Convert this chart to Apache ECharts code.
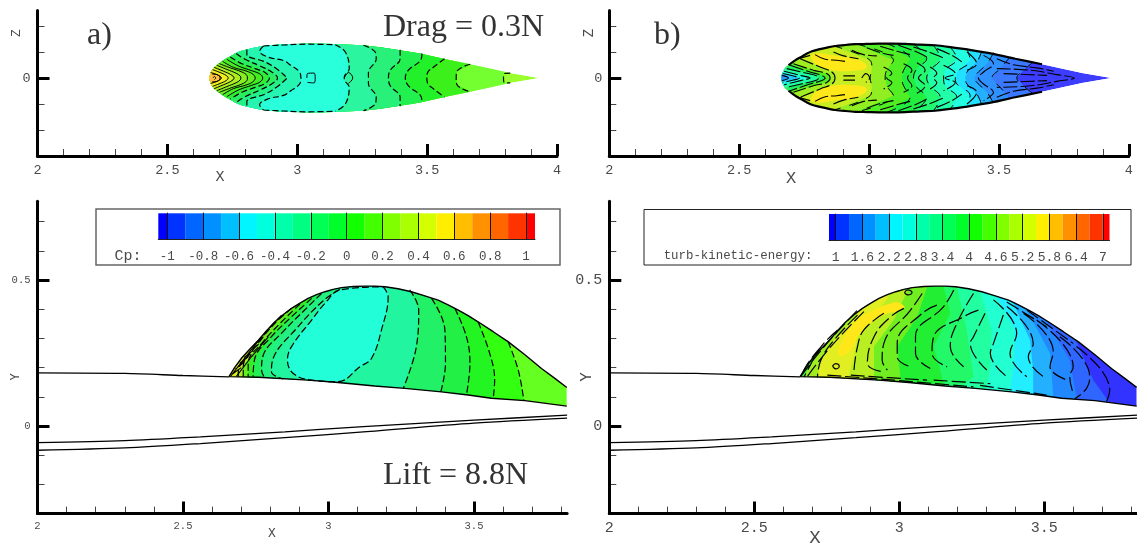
<!DOCTYPE html>
<html><head><meta charset="utf-8">
<style>html,body{margin:0;padding:0;background:#fff}#c{width:1137px;height:546px}</style>
<script src="https://cdn.jsdelivr.net/npm/echarts@6/dist/echarts.min.js"></script></head>
<body><div id="c"></div>
<script>
// ---- shared tick labels ----
const topMajorX=[2,2.5,3,3.5,4];
const topMinorX=[2.1,2.2,2.3,2.4,2.6,2.7,2.8,2.9,3.1,3.2,3.3,3.4,3.6,3.7,3.8,3.9];
const sideMajorX=[2,2.5,3,3.5];
const sideMinorX=[2.1,2.2,2.3,2.4,2.6,2.7,2.8,2.9,3.1,3.2,3.3,3.4,3.6,3.7,3.8];
const topMajorZ=[0];
const topMinorZ=[-0.2,-0.1,0.1,0.2];
const sideMajorY=[0,0.5];
const sideMinorY=[-0.2,-0.1,0.1,0.2,0.3,0.4,0.6,0.7];
const cpTicks=[-1,-0.8,-0.6,-0.4,-0.2,0,0.2,0.4,0.6,0.8,1];
const tkeTicks=[1,1.6,2.2,2.8,3.4,4,4.6,5.2,5.8,6.4,7];
const cpBands=[-1.05,-1,-0.9,-0.8,-0.7,-0.6,-0.5,-0.4,-0.3,-0.2,-0.1,0,0.1,0.2,0.3,0.4,0.5,0.6,0.7,0.8,0.9,1,1.05];
const tkeBands=[0.85,1,1.3,1.6,1.9,2.2,2.5,2.8,3.1,3.4,3.7,4,4.3,4.6,4.9,5.2,5.5,5.8,6.1,6.4,6.7,7,7.15];
const bandColors=['#0000ff','#0033ff','#0066ff','#0090ff','#00bfff','#00f5ff','#00ffdd','#00ffaa','#00ff80','#00ff55','#00ff2a','#11ff00','#44ff00','#80ff00','#aaff00','#d4ff00','#ffee00','#ffbf00','#ff9000','#ff6600','#ff3300','#ff0000'];

// ---- top-view body (x, half width z) ----
const planOutline=[[2.661,0],[2.665,.014],[2.671,.030],[2.680,.040],[2.690,.049],[2.703,.059],[2.722,.072],[2.742,.083],[2.761,.094],[2.780,.103],[2.806,.110],[2.838,.117],[2.870,.123],[2.908,.127],[2.947,.130],[2.992,.131],[3.037,.132],[3.088,.132],[3.139,.131],[3.197,.128],[3.255,.126],[3.319,.118],[3.383,.109],[3.473,.094],[3.563,.074],[3.666,.053],[3.820,.019],[3.933,0]];

// ---- panel a) Cp top view: contours ordered tail to nose, colour = region on nose side ----
const aBase='#9aff2e';
const aContours=[
 [[3.820,.019],[3.797,.017],[3.794,0]],
 [[3.666,.053],[3.615,.026],[3.612,0]],
 [[3.567,.074],[3.525,.042],[3.502,.021],[3.499,0]],
 [[3.480,.094],[3.477,.072],[3.428,.030],[3.416,0]],
 [[3.396,.109],[3.396,.074],[3.358,.030],[3.351,0]],
 [[3.255,.126],[3.300,.100],[3.304,.074],[3.274,.021],[3.274,0]],
 [[3.146,.128],[3.185,.100],[3.200,.036],[3.181,.004],[3.181,0]],
 [[2.870,.123],[2.855,.103],[2.889,.080],[2.947,.067],[2.975,.049],[3.009,.023],[3.014,0]],
 [[2.806,.110],[2.806,.090],[2.876,.062],[2.928,.030],[2.957,.004],[2.962,0]],
 [[2.765,.094],[2.799,.072],[2.857,.046],[2.902,.023],[2.924,0]],
 [[2.742,.081],[2.787,.055],[2.838,.036],[2.876,.021],[2.893,0]],
 [[2.729,.072],[2.774,.046],[2.825,.028],[2.857,.015],[2.867,0]],
 [[2.713,.064],[2.754,.041],[2.806,.026],[2.831,.013],[2.838,0]],
 [[2.700,.055],[2.742,.039],[2.787,.023],[2.806,.010],[2.808,0]],
 [[2.690,.049],[2.729,.033],[2.765,.018],[2.780,.008],[2.783,0]],
 [[2.680,.041],[2.716,.026],[2.744,.013],[2.757,0]],
 [[2.674,.032],[2.703,.021],[2.726,.010],[2.734,0]],
 [[2.667,.021],[2.690,.013],[2.708,0]],
 [[2.672,.015],[2.693,.013],[2.703,0]]
];
const aColors=['#74ff30','#3cf01c','#22f028','#22f050','#28f078','#2cf5a0','#2affdc','#25f5b0','#25f088','#28ee60','#30ee38','#44ee22','#66ee22','#88ee22','#aaee22','#ccee22','#eeee22','#ffdd22','#ffc040'];
const aExtraLines=[
 [[2.870,.123],[2.947,.127],[3.037,.130],[3.146,.128]],
 [[3.037,0],[3.039,.017],[3.065,.019],[3.069,0]],
 [[3.181,0],[3.197,.021],[3.214,0]],
 [[2.676,0],[2.681,.006],[2.686,0]]
];

// ---- panel b) turbulent kinetic energy top view ----
const bBase='#3d3dff';
const bContours=[
 [[3.633,.062],[3.595,.030],[3.569,0]],
 [[3.543,.081],[3.505,.036],[3.473,0]],
 [[3.479,.098],[3.454,.055],[3.415,.017],[3.405,0]],
 [[3.434,.104],[3.415,.062],[3.377,.023],[3.370,0]],
 [[3.377,.113],[3.389,.068],[3.338,.023],[3.332,0]],
 [[3.312,.119],[3.338,.074],[3.293,.030],[3.287,0]],
 [[3.248,.126],[3.274,.074],[3.235,.030],[3.222,0]],
 [[3.171,.130],[3.222,.074],[3.184,.036],[3.171,0]],
 [[3.068,.132],[3.158,.074],[3.133,.030],[3.126,0]],
 [[2.953,.130],[3.094,.068],[3.068,.030],[3.062,0]],
 [[2.863,.123],[3.004,.068],[3.011,.036],[3.004,0]]
];
const bColors=['#3a78ff','#2f90ff','#22b0ff','#22e0ff','#22ffe0','#22ffa8','#22f870','#22ee40','#50ee22','#90ee22','#c8ee22'];
const bLobe=[[2.78,.09],[2.88,.085],[2.97,.065],[2.99,.04],[2.94,.028],[2.86,.03],[2.80,.05]];
const bLobeColor='#ffe81a';
const bNose=[
 [[2.735,.074],[2.812,.042],[2.857,.023],[2.869,0]],
 [[2.709,.055],[2.786,.030],[2.837,.017],[2.850,0]],
 [[2.696,.049],[2.773,.023],[2.818,.010],[2.831,0]],
 [[2.683,.036],[2.760,.018],[2.799,.008],[2.805,0]],
 [[2.673,.026],[2.735,.010],[2.773,0]],
 [[2.668,.017],[2.709,.008],[2.732,0]],
 [[2.665,.010],[2.690,0]]
];
const bNoseColors=['#a0ee22','#50ee22','#22f060','#22ffa0','#22ffe0','#22c8ff','#2299ff'];
const bExtraLines=[
 [[2.728,.074],[2.773,.087]],
 [[2.792,.090],[2.831,.072],[2.876,.068],[2.908,.064]],
 [[2.863,.100],[2.902,.085],[2.959,.074]],
 [[2.934,.107],[2.979,.090],[3.030,.085]],
 [[2.991,.116],[3.043,.098],[3.094,.087]],
 [[3.043,.122],[3.107,.103],[3.158,.090]],
 [[3.113,.126],[3.184,.100],[3.222,.081]],
 [[3.171,.119],[3.235,.098],[3.287,.077]],
 [[3.261,.113],[3.319,.087],[3.357,.062]],
 [[3.377,.100],[3.415,.055],[3.377,.030]],
 [[3.441,.087],[3.479,.055],[3.441,.023],[3.421,0]],
 [[3.492,.036],[3.621,.030],[3.723,.013],[3.790,0]],
 [[3.518,.017],[3.685,.010]],
 [[3.492,.074],[3.556,.051],[3.646,.039],[3.711,.026]],
 [[3.056,.042],[3.088,.017],[3.068,0]],
 [[3.133,.055],[3.165,.030],[3.148,0]],
 [[3.184,.059],[3.216,.030],[3.190,0]],
 [[3.235,.042],[3.261,.017],[3.248,0]],
 [[3.287,.049],[3.332,.017],[3.293,0]],
 [[2.901,.008],[2.946,.008]],
 [[2.972,0],[2.988,.017],[3.002,0]]
];

// ---- side-view body (x, y) ----
const sideTop=[[2.658,.169],[2.678,.201],[2.701,.232],[2.730,.264],[2.759,.294],[2.787,.326],[2.816,.357],[2.844,.381],[2.873,.403],[2.902,.421],[2.930,.437],[2.959,.450],[2.988,.460],[3.016,.468],[3.045,.474],[3.085,.478],[3.125,.479],[3.159,.479],[3.194,.477],[3.239,.470],[3.285,.460],[3.331,.446],[3.377,.431],[3.411,.415],[3.446,.397],[3.480,.378],[3.514,.357],[3.566,.323],[3.617,.289],[3.675,.244],[3.732,.197],[3.778,.163],[3.819,.132]];
const sideBottom=[[3.819,.068],[3.675,.087],[3.560,.095],[3.480,.106],[3.388,.117],[3.262,.129],[3.159,.137],[3.033,.149],[2.930,.157],[2.759,.167]];
const wingFront=[[2,.182],[2.3,.18],[2.5,.173],[2.658,.168]];
const wingUpper=[[2,-.057],[2.3,-.05],[2.56,-.037],[2.85,-.02],[3.12,-.002],[3.5,.02],[3.82,.037]];
const wingLower=[[2,-.083],[2.3,-.075],[2.56,-.06],[2.85,-.04],[3.12,-.02],[3.5,.01],[3.82,.027]];

// ---- panel a) side view Cp ----
const cBase='#66ff22';
const cContours=[
 [[3.617,.289],[3.652,.192],[3.671,.089]],
 [[3.514,.357],[3.554,.249],[3.571,.157],[3.566,.095]],
 [[3.434,.403],[3.474,.306],[3.486,.215],[3.474,.106]],
 [[3.354,.437],[3.400,.329],[3.402,.215],[3.386,.117]],
 [[3.279,.466],[3.310,.397],[3.302,.272],[3.257,.129]],
 [[3.039,.468],[2.982,.429],[2.890,.334],[2.810,.232],[2.804,.186],[2.844,.161]],
 [[2.976,.454],[2.930,.409],[2.844,.323],[2.776,.243],[2.770,.192],[2.781,.165]],
 [[2.942,.437],[2.873,.374],[2.804,.306],[2.747,.232],[2.741,.169]],
 [[2.902,.418],[2.839,.357],[2.776,.289],[2.724,.214],[2.724,.169]],
 [[2.873,.403],[2.816,.352],[2.759,.283],[2.707,.203],[2.707,.169]],
 [[2.839,.380],[2.787,.323],[2.736,.254],[2.690,.186],[2.690,.169]]
];
const cColors=['#33ff11','#22f522','#22f044','#22f066','#22f5a0','#22f080','#22ee55','#33ee22','#66ee22','#aaee22','#ddee22'];
const cBlob=[[3.188,.477],[3.205,.443],[3.182,.329],[3.148,.232],[3.108,.203],[3.033,.152],[2.942,.157],[2.879,.180],[2.859,.226],[2.873,.272],[2.942,.363],[2.988,.420],[3.039,.466]];
const cBlobColor='#22ffd8';
const cExtraLines=[
 [[2.664,.171],[2.716,.238],[2.770,.305]],
 [[2.684,.171],[2.736,.238],[2.793,.305]],
 [[2.67,.178],[2.70,.200]],[[2.68,.195],[2.71,.218]],[[2.695,.215],[2.725,.238]],[[2.71,.235],[2.74,.258]],[[2.73,.258],[2.76,.280]]
];

// ---- panel b) side view TKE ----
const dBase='#3333ff';
const dContours=[
 [[3.611,.289],[3.669,.158],[3.720,.087]],
 [[3.508,.357],[3.588,.226],[3.611,.100]],
 [[3.440,.397],[3.520,.249],[3.531,.106]],
 [[3.394,.420],[3.451,.295],[3.462,.192],[3.462,.106]],
 [[3.336,.443],[3.399,.329],[3.394,.203],[3.382,.117]],
 [[3.279,.460],[3.319,.329],[3.314,.203],[3.302,.126]],
 [[3.199,.475],[3.233,.329],[3.256,.169],[3.210,.132]],
 [[3.153,.477],[3.176,.386],[3.119,.272],[3.153,.146]],
 [[3.096,.475],[3.062,.374],[2.993,.272],[3.004,.169]],
 [[3.027,.460],[2.981,.363],[2.913,.272],[2.913,.163]],
 [[2.959,.437],[2.913,.374],[2.856,.306],[2.844,.237],[2.827,.175]]
];
const dColors=['#2f66ff','#2288ff','#22b0ff','#22eeff','#22ffd0','#22ffa0','#22f868','#22ee33','#70ee22','#b8ee22','#e0ee22'];
const dLobe=[[2.970,.420],[3.004,.420],[3.016,.403],[2.936,.374],[2.867,.317],[2.827,.254],[2.793,.243],[2.798,.283],[2.856,.363],[2.913,.397]];
const dLobeColor='#ffe81a';
const dNose=[
 [[2.856,.380],[2.775,.294],[2.730,.226],[2.718,.168]],
 [[2.787,.328],[2.730,.271],[2.684,.191],[2.672,.168]],
 [[2.730,.271],[2.684,.214],[2.661,.168]]
];
const dNoseColors=['#a0ee22','#44ee44','#22ddaa'];
const dExtraLines=[
 [[2.947,.386],[2.878,.329],[2.856,.272],[2.844,.192]],
 [[3.016,.403],[2.970,.374],[2.913,.306],[2.890,.215],[2.941,.186]],
 [[3.079,.454],[3.039,.397],[2.947,.283],[2.941,.226],[2.959,.192]],
 [[3.130,.414],[3.079,.386],[2.993,.283],[2.993,.237],[3.039,.203]],
 [[3.188,.466],[3.153,.409],[3.056,.306],[3.056,.249],[3.107,.197]],
 [[3.273,.397],[3.233,.380],[3.119,.306],[3.113,.249],[3.165,.203]],
 [[3.256,.454],[3.199,.352],[3.176,.272],[3.222,.203]],
 [[3.296,.386],[3.256,.306],[3.245,.283],[3.302,.192]],
 [[3.359,.380],[3.325,.283],[3.314,.249],[3.371,.169]],
 [[3.325,.432],[3.405,.317],[3.382,.249],[3.440,.169]],
 [[3.371,.409],[3.462,.283],[3.445,.237],[3.497,.169]],
 [[3.428,.386],[3.531,.255],[3.520,.203],[3.577,.158]],
 [[3.474,.363],[3.600,.203],[3.588,.169],[3.600,.112]],
 [[3.554,.306],[3.657,.169],[3.646,.129],[3.606,.094]],
 [[3.611,.272],[3.726,.123],[3.714,.082]],
 [[2.752,.174],[2.982,.157],[3.256,.134]],
 [[2.833,.174],[3.096,.157]],
 [[3.119,.157],[3.314,.145]],
 [[3.279,.139],[3.508,.106]],
 [[2.661,.171],[2.741,.272],[2.856,.397]],
 [[2.684,.171],[2.764,.272],[2.878,.392]],
 [[3.440,.397],[3.600,.283]],
 [[3.371,.425],[3.508,.340]]
];
const dLoops=[
 [[2.770,.205],[2.781,.214],[2.793,.205],[2.781,.196],[2.770,.205]],
 [[3.018,.457],[3.030,.466],[3.044,.457],[3.030,.449],[3.018,.457]]
];

// ---- building helpers ----
const flip=c=>c.map(p=>[p[0],-p[1]]);
const withMirror=c=>c.concat(flip(c).reverse().filter(p=>p[1]!==0));
const planBody=withMirror(planOutline);
const sideBody=sideTop.concat(sideBottom);
const bThickEdge=planOutline.filter(p=>p[0]>=2.69&&p[0]<=3.67);
const leftOf=c=>c.concat([[c[c.length-1][0],-.3],[2.4,-.3],[2.4,.9],[c[0][0],.9]]);
const joinLines=ls=>{const o=[];ls.forEach((l,i)=>{if(i)o.push([null,null]);l.forEach(p=>o.push(p));});return o;};
const mirrorLines=ls=>{const o=[];ls.forEach(l=>{if(l[l.length-1][1]===0)o.push(withMirror(l));else{o.push(l);o.push(flip(l));}});return o;};

function fillSeries(idx,body,polys){
  return {type:'custom',coordinateSystem:'cartesian2d',xAxisIndex:idx,yAxisIndex:idx,z:2,clip:true,silent:true,
    data:polys.map((p,i)=>[p.pts[0][0],p.pts[0][1],i]),encode:{x:0,y:1},
    renderItem(params,api){
      const p=polys[params.dataIndex];
      return {type:'polygon',shape:{points:p.pts.map(q=>api.coord(q)),smooth:p.smooth||0},
        clipPath:{type:'polygon',shape:{points:body.map(q=>api.coord(q))}},
        style:{fill:p.color,stroke:null}};
    }};
}
function lineSeries(idx,data,opt,smooth){
  return {type:'line',xAxisIndex:idx,yAxisIndex:idx,z:4,silent:true,symbol:'none',connectNulls:false,smooth:smooth||false,
    data,lineStyle:Object.assign({color:'#000',width:1.2},opt||{})};
}
function barSeries(idx,edges){
  return {type:'custom',coordinateSystem:'cartesian2d',xAxisIndex:idx,yAxisIndex:idx,z:2,silent:true,
    data:bandColors.map((c,i)=>[edges[i],edges[i+1],i]),encode:{x:[0,1]},
    renderItem(params,api){
      const a=api.coord([api.value(0),0]),b=api.coord([api.value(1),1]);
      return {type:'rect',shape:{x:a[0],y:b[1],width:b[0]-a[0],height:a[1]-b[1]},style:{fill:bandColors[api.value(2)]}};
    }};
}

const aPolys=[{pts:planBody,color:aBase}].concat(aContours.map((c,i)=>({pts:leftOf(withMirror(c)),color:aColors[i]})));
const bPolys=[{pts:planBody,color:bBase}]
  .concat(bContours.map((c,i)=>({pts:leftOf(withMirror(c)),color:bColors[i]})))
  .concat([{pts:bLobe,color:bLobeColor,smooth:.5},{pts:flip(bLobe),color:bLobeColor,smooth:.5}])
  .concat(bNose.map((c,i)=>({pts:leftOf(withMirror(c)),color:bNoseColors[i]})));
const cPolys=[{pts:sideBody,color:cBase}].concat(cContours.map((c,i)=>({pts:leftOf(c),color:cColors[i]})))
  .concat([{pts:cBlob,color:cBlobColor,smooth:.5}]);
const dPolys=[{pts:sideBody,color:dBase}].concat(dContours.map((c,i)=>({pts:leftOf(c),color:dColors[i]})))
  .concat([{pts:dLobe,color:dLobeColor,smooth:.5}])
  .concat(dNose.map((c,i)=>({pts:leftOf(c),color:dNoseColors[i]})));

const aDashed=joinLines(mirrorLines(aContours.slice(0,11)).concat(mirrorLines(aExtraLines.slice(0,1))));
const aSolid=joinLines(mirrorLines(aContours.slice(11)).concat(mirrorLines(aExtraLines.slice(1))));
const bDashed=joinLines(mirrorLines(bContours));
const bSolid=joinLines(mirrorLines(bNose).concat(mirrorLines(bExtraLines)));
const bEdge=joinLines([bThickEdge,flip(bThickEdge)]);
const cLines=joinLines(cContours.concat([cBlob.concat([cBlob[0]])]));
const cSolid=joinLines(cExtraLines);
const dLines=joinLines(dExtraLines.concat(dNose));
const dLoopLines=joinLines(dLoops);
const bodyEdge=joinLines([sideTop,sideBottom.concat([sideTop[0]])]);
const wings=joinLines([wingFront,wingUpper,wingLower]);

// ---- axes ----
const monoFont='"Liberation Mono",monospace';
const panels=[
 {left:37.5,top:10.4,width:519.5,height:145.6,xmax:4,ymax:.26,major:topMajorX,minor:topMinorX,ymajor:topMajorZ,yminor:topMinorZ,fs:13.5},
 {left:609.3,top:10.4,width:519.5,height:145.6,xmax:4,ymax:.26,major:topMajorX,minor:topMinorX,ymajor:topMajorZ,yminor:topMinorZ,fs:13.5},
 {left:37.5,top:201.2,width:529.6,height:312.4,xmax:3.82,ymax:.77,major:sideMajorX,minor:sideMinorX,ymajor:sideMajorY,yminor:sideMinorY,fs:10.5},
 {left:609.3,top:201.2,width:529.6,height:312.4,xmax:3.82,ymax:.77,major:sideMajorX,minor:sideMinorX,ymajor:sideMajorY,yminor:sideMinorY,fs:15}
];
const grids=panels.map(p=>({left:p.left,top:p.top,width:p.width,height:p.height}))
 .concat([{left:158.3,top:213.3,width:376.7,height:26.4},{left:829,top:214,width:280.5,height:26.7}]);
const lblStyle=fs=>({fontFamily:monoFont,fontSize:fs,color:'#4a4a4a',margin:7,hideOverlap:false,showMinLabel:true,showMaxLabel:true});
const fmt=v=>String(v);
const xAxes=[],yAxes=[];
panels.forEach((p,i)=>{
 xAxes[i]={type:'value',gridIndex:i,position:'bottom',min:2,max:p.xmax,z:5,splitLine:{show:false},
  axisLine:{show:true,onZero:false,lineStyle:{color:'#000',width:3}},
  axisTick:{show:true,inside:true,length:12,customValues:p.major,lineStyle:{color:'#000',width:3}},
  axisLabel:Object.assign(lblStyle(p.fs),{customValues:p.major,formatter:fmt})};
 xAxes[i+4]={type:'value',gridIndex:i,position:'bottom',min:2,max:p.xmax,splitLine:{show:false},
  axisLine:{show:false,onZero:false},axisLabel:{show:false},
  axisTick:{show:true,inside:true,length:7,customValues:p.minor,lineStyle:{color:'#444',width:1}}};
 yAxes[i]={type:'value',gridIndex:i,position:'left',min:-.3,max:p.ymax,z:5,splitLine:{show:false},
  axisLine:{show:true,onZero:false,lineStyle:{color:'#000',width:3}},
  axisTick:{show:true,inside:true,length:12,customValues:p.ymajor,lineStyle:{color:'#000',width:3}},
  axisLabel:Object.assign(lblStyle(p.fs),{customValues:p.ymajor,formatter:fmt})};
 yAxes[i+4]={type:'value',gridIndex:i,position:'left',min:-.3,max:p.ymax,splitLine:{show:false},
  axisLine:{show:false,onZero:false},axisLabel:{show:false},
  axisTick:{show:true,inside:true,length:7,customValues:p.yminor,lineStyle:{color:'#444',width:1}}};
});
[[4,cpTicks,-1.05,1.05,12.5],[5,tkeTicks,.85,7.15,13]].forEach(([g,t,a,b,fs],k)=>{
 xAxes[8+k]={type:'value',gridIndex:g,position:'bottom',min:a,max:b,z:5,splitLine:{show:false},
  axisLine:{show:true,onZero:false,lineStyle:{color:'#222',width:1}},
  axisTick:{show:true,inside:true,length:27,customValues:t,lineStyle:{color:'#111',width:1}},
  axisLabel:Object.assign(lblStyle(fs),{customValues:t,formatter:fmt,margin:10})};
 yAxes[8+k]={type:'value',gridIndex:g,min:0,max:1,show:false};
});

const txt=(x,y,text,font,extra)=>Object.assign({type:'text',x,y,z:10,silent:true,
  style:{text,font,fill:'#4a4a4a',align:'center',verticalAlign:'middle'}},extra||{});
const serif=(x,y,text)=>({type:'text',x,y,z:10,silent:true,style:{text,font:'32px "Liberation Serif",serif',fill:'#333',align:'left',verticalAlign:'middle'}});
const rot={rotation:Math.PI/2};
const mono=s=>s+'px "Liberation Mono",monospace';

const option={
 animation:false,backgroundColor:'#fff',
 grid:grids,xAxis:xAxes,yAxis:yAxes,
 series:[
  fillSeries(0,planBody,aPolys),lineSeries(0,aDashed,{type:[6,3],width:1.2},.4),lineSeries(0,aSolid,{width:1},.4),
  fillSeries(1,planBody,bPolys),lineSeries(1,bDashed,{type:[9,9],width:1},.4),lineSeries(1,bSolid,{type:[14,3],width:1.1},.4),lineSeries(1,bEdge,{width:2.2},.3),
  fillSeries(2,sideBody,cPolys),lineSeries(2,cLines,{type:[7,3],width:1.2},.4),lineSeries(2,cSolid,{width:1.1}),lineSeries(2,bodyEdge,{width:1.4}),lineSeries(2,wings,{width:1.3},.3),
  fillSeries(3,sideBody,dPolys),lineSeries(3,dLines,{type:[14,4],width:1.2},.45),lineSeries(3,dLoopLines,{width:1.2},.5),lineSeries(3,bodyEdge,{width:1.4}),lineSeries(3,wings,{width:1.3},.3),
  barSeries(8,cpBands),barSeries(9,tkeBands)
 ],
 graphic:[
  {type:'rect',shape:{x:96,y:209,width:464,height:56},z:-1,silent:true,style:{fill:'#fff',stroke:'#666',lineWidth:1.5}},
  {type:'rect',shape:{x:644,y:209.5,width:487,height:55.5},z:-1,silent:true,style:{fill:'#fff',stroke:'#222',lineWidth:1}},
  txt(128,256,'Cp:',mono(15)),
  txt(738,256,'turb-kinetic-energy:',mono(12.4)),
  txt(220,177,'X',mono(15)),txt(17,33,'Z',mono(13),rot),
  txt(791,178,'X',mono(17)),txt(589,33,'Z',mono(14),rot),
  txt(272,534,'X',mono(13)),txt(16,377,'Y',mono(12),rot),
  txt(815,538,'X',mono(19)),txt(587,377,'Y',mono(16),rot),
  serif(87,36,'a)'),serif(654,36,'b)'),
  serif(383,28,'Drag = 0.3N'),serif(383,476,'Lift = 8.8N')
 ]
};
const chart=echarts.init(document.getElementById('c'),null,{renderer:'canvas'});
chart.setOption(option);
</script></body></html>
